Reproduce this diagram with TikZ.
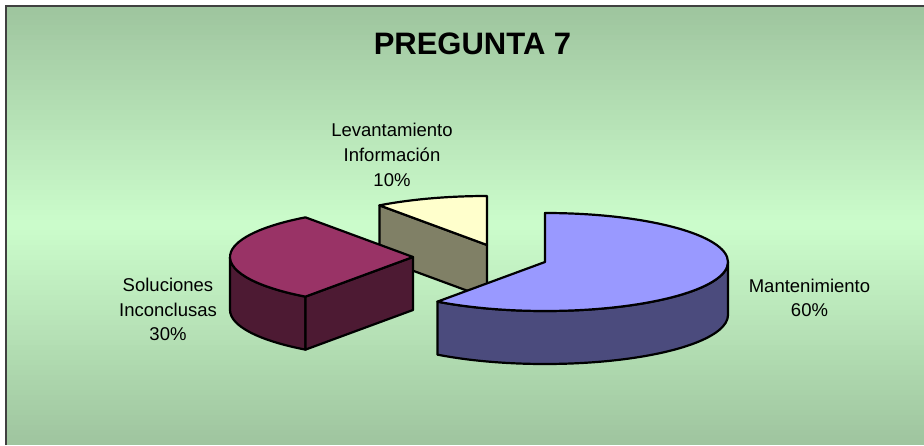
\documentclass[tikz,border=0pt]{standalone}
\usepackage{fontspec}
\setmainfont{Liberation Sans}
\usetikzlibrary{calc}
\begin{document}
\begin{tikzpicture}[x=1pt,y=1pt,
  edge/.style={draw=black,line width=2.2pt,line join=round},
  lbl/.style={align=center,inner sep=0pt,font=\fontsize{18.5}{24.7}\selectfont}]
\definecolor{bgtop}{RGB}{158,196,158}
\definecolor{bgmid}{RGB}{204,253,204}
\definecolor{bluetop}{HTML}{9999FF}
\definecolor{blueside}{HTML}{4B4B7D}
\definecolor{redtop}{HTML}{993366}
\definecolor{redside}{HTML}{4D1A33}
\definecolor{yeltop}{HTML}{FFFFCC}
\definecolor{yelside}{HTML}{808066}
\useasboundingbox (0,0) rectangle (924,445);
\fill[white] (0,0) rectangle (924,445);
\foreach \i in {0,...,87}{
  \pgfmathsetmacro{\yy}{\i*5}
  \pgfmathsetmacro{\tt}{100*(1-abs(\yy+2.5-219.5)/219.5)}
  \pgfmathsetmacro{\ytop}{min(\yy+5.6,439)}
  \fill[bgmid!\tt!bgtop] (6,\yy) rectangle (924,\ytop);
}
\draw[draw=black!75,line width=1.5pt] (6,0) -- (6,439) -- (924,439);
% Levantamiento (yellow)
\coordinate (yc) at (487,200);
\coordinate (yp) at (379.44,239.64);
\filldraw[edge,fill=yelside] (yc) -- (yp) -- ++(0,-53) -- ($(yc)+(0,-53)$) -- cycle;
\filldraw[edge,fill=yeltop] (yc) -- (yp) arc[start angle=126,end angle=90,x radius=183,y radius=49] -- cycle;
% Soluciones (red)
\coordinate (rc) at (413,188);
\coordinate (rp) at (305.44,148.36);
\filldraw[edge,fill=redside] (rp) arc[start angle=-126,end angle=-180,x radius=183,y radius=49] -- ++(0,-53) arc[start angle=-180,end angle=-126,x radius=183,y radius=49] -- cycle;
\filldraw[edge,fill=redside] (rc) -- (rp) -- ++(0,-53) -- ($(rc)+(0,-53)$) -- cycle;
\filldraw[edge,fill=redtop] (rc) -- (rp) arc[start angle=-126,end angle=-234,x radius=183,y radius=49] -- cycle;
% Mantenimiento (blue)
\coordinate (bc) at (545,183);
\coordinate (br) at (728,183);
\filldraw[edge,fill=blueside] (br) arc[start angle=0,end angle=-126,x radius=183,y radius=49] -- ++(0,-53) arc[start angle=-126,end angle=0,x radius=183,y radius=49] -- cycle;
\filldraw[edge,fill=bluetop] (bc) -- (545,232) arc[start angle=90,end angle=-126,x radius=183,y radius=49] -- cycle;
% labels
\node[inner sep=0pt,font=\fontsize{31}{36}\selectfont\bfseries] (title) at (472.5,401) {PREGUNTA 7};
\node[lbl] (lev) at (392,290) {Levantamiento\\Información\\10\%};
\node[lbl] (sol) at (168,135.5) {Soluciones\\Inconclusas\\30\%};
\node[lbl] (man) at (809.5,147) {Mantenimiento\\60\%};
\end{tikzpicture}
\end{document}
